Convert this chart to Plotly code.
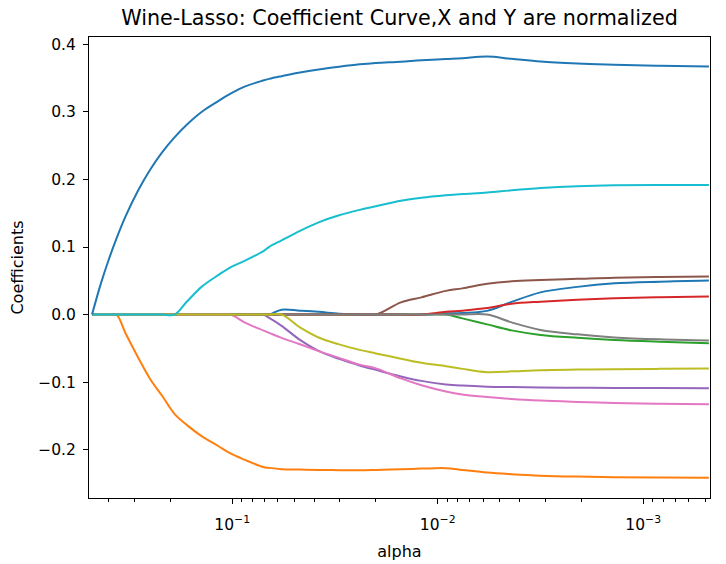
import plotly.graph_objects as go

# alpha grid (x values, log axis, reversed)
alphas = [0.481, 0.437, 0.398, 0.366, 0.331, 0.288, 0.251, 0.219, 0.191, 0.166,
          0.141, 0.117, 0.102, 0.0871, 0.0708, 0.0661, 0.0575, 0.0468, 0.0380, 0.0302,
          0.0240, 0.0200, 0.0151, 0.0120, 0.00912, 0.00759, 0.00575, 0.00437, 0.00316,
          0.00209, 0.00138, 0.000832, 0.000479]

fixed_acidity = [0, 0, 0, 0, 0, 0, 0, 0, 0, 0, 0, 0, 0, 0, 0, 0, 0.0073, 0.0058, 0.004,
                 0.0013, 0, 0, 0, 0, 0.0018, 0.0025, 0.0055, 0.0188, 0.0329, 0.041, 0.0462,
                 0.0487, 0.0504]
volatile_acidity = [0, 0, 0, 0, -0.0273, -0.0627, -0.0953, -0.1206, -0.147, -0.1637, -0.18,
                    -0.1946, -0.2056, -0.2148, -0.2256, -0.227, -0.2289, -0.2295, -0.230,
                    -0.2304, -0.2305, -0.230, -0.229, -0.2281, -0.2274, -0.230, -0.234,
                    -0.2364, -0.2385, -0.2399, -0.2407, -0.2412, -0.2415]
citric_acid = [0] * 25 + [-0.0056, -0.0145, -0.0234, -0.0301, -0.0345, -0.0378, -0.0403, -0.0424]
residual_sugar = [0] * 24 + [0.004, 0.0058, 0.0096, 0.0159, 0.0191, 0.0221, 0.0241, 0.0258, 0.0267]
chlorides = [0] * 15 + [-0.0049, -0.0167, -0.0375, -0.0538, -0.0656, -0.0753, -0.0819, -0.0916,
                        -0.0982, -0.1034, -0.1052, -0.1068, -0.1074, -0.1079, -0.1083, -0.1086,
                        -0.1089, -0.109]
free_sulfur = [0] * 22 + [0.0181, 0.0255, 0.0351, 0.0388, 0.0455, 0.0492, 0.0511, 0.0529, 0.0547,
                          0.0556, 0.0563]
total_sulfur = [0] * 13 + [-0.0116, -0.0234, -0.0271, -0.0345, -0.0439, -0.0541, -0.0641, -0.0741,
                           -0.0797, -0.0945, -0.1046, -0.1138, -0.1182, -0.1219, -0.1249, -0.1273,
                           -0.1293, -0.131, -0.132, -0.1327]
density = [0] * 27 + [-0.0116, -0.0227, -0.0293, -0.0338, -0.0367, -0.0385]
ph = [0] * 17 + [-0.019, -0.0339, -0.0441, -0.0523, -0.0575, -0.0653, -0.0714, -0.0764, -0.0804,
                 -0.0853, -0.0841, -0.0824, -0.0815, -0.0809, -0.0804, -0.080]
sulphates = [0] * 9 + [0.0193, 0.041, 0.0585, 0.070, 0.0796, 0.0936, 0.1003, 0.11, 0.124, 0.1366,
                       0.147, 0.155, 0.1603, 0.1684, 0.1729, 0.1766, 0.1785, 0.1807, 0.184, 0.1873,
                       0.19, 0.1914, 0.1919, 0.192]
alcohol = [0.0, 0.0447, 0.0823, 0.1124, 0.1449, 0.183, 0.2145, 0.2406, 0.2624, 0.2815, 0.300,
           0.316, 0.327, 0.3375, 0.3465, 0.349, 0.353, 0.3585, 0.363, 0.367, 0.3705, 0.3725,
           0.3745, 0.3766, 0.3784, 0.3796, 0.382, 0.3788, 0.3748, 0.3719, 0.370, 0.3684, 0.3674]

series_names = ["fixed acidity", "volatile acidity", "citric acid", "residual sugar", "chlorides",
                "free sulfur dioxide", "total sulfur dioxide", "density", "pH", "sulphates", "alcohol"]
series_values = [fixed_acidity, volatile_acidity, citric_acid, residual_sugar, chlorides,
                 free_sulfur, total_sulfur, density, ph, sulphates, alcohol]
colors = ["#1f77b4", "#ff7f0e", "#2ca02c", "#d62728", "#9467bd", "#8c564b", "#e377c2",
          "#7f7f7f", "#bcbd22", "#17becf", "#1f77b4"]

x_tick_vals = [0.1, 0.01, 0.001]
x_tick_text = ["10<sup>\u22121</sup>", "10<sup>\u22122</sup>", "10<sup>\u22123</sup>"]
y_tick_vals = [-0.2, -0.1, 0.0, 0.1, 0.2, 0.3, 0.4]
y_tick_text = ["\u22120.2", "\u22120.1", "0.0", "0.1", "0.2", "0.3", "0.4"]

minor_vals = [k * 10.0 ** d for d in (-1, -2, -3, -4) for k in range(2, 10)]

fig = go.Figure()
for name, vals, col in zip(series_names, series_values, colors):
    fig.add_trace(go.Scatter(x=alphas, y=vals, mode="lines", name=name,
                             line=dict(color=col, width=2, shape="spline", smoothing=1.0),
                             showlegend=False))

font_family = "DejaVu Sans"
fig.update_layout(
    width=726, height=564,
    margin=dict(l=89, r=16, t=37, b=66),
    paper_bgcolor="white", plot_bgcolor="white",
    font=dict(family=font_family, size=15.5, color="black"),
    title=dict(text="Wine-Lasso: Coefficient Curve,X and Y are normalized",
               x=0.5, xref="paper", xanchor="center",
               y=1 - 18 / 564, yref="container", yanchor="middle",
               font=dict(size=20.7, family=font_family, color="black")),
)
fig.update_xaxes(
    type="log", range=[-0.303, -3.325], autorange=False, automargin=False,
    tickmode="array", tickvals=x_tick_vals, ticktext=x_tick_text,
    ticks="outside", ticklen=5, tickwidth=1, tickcolor="black",
    tickfont=dict(size=15.5),
    ticklabelstandoff=7,
    minor=dict(tickmode="array", tickvals=minor_vals, ticks="outside", ticklen=3,
               tickwidth=1, tickcolor="black", showgrid=False),
    showline=True, linecolor="black", linewidth=1, mirror=True,
    showgrid=False, zeroline=False,
    title=dict(text="alpha", standoff=13, font=dict(size=16)),
)
fig.update_yaxes(
    range=[-0.2716, 0.411], autorange=False, automargin=False,
    tickmode="array", tickvals=y_tick_vals, ticktext=y_tick_text,
    ticks="outside", ticklen=5, tickwidth=1, tickcolor="black",
    tickfont=dict(size=15.5),
    ticklabelstandoff=4,
    showline=True, linecolor="black", linewidth=1, mirror=True,
    showgrid=False, zeroline=False,
    title=dict(text="Coefficients", standoff=10, font=dict(size=16)),
)

fig.write_html("out.html", config={"displayModeBar": False},
               post_script="document.body.style.margin='0';document.body.style.overflow='hidden';")
